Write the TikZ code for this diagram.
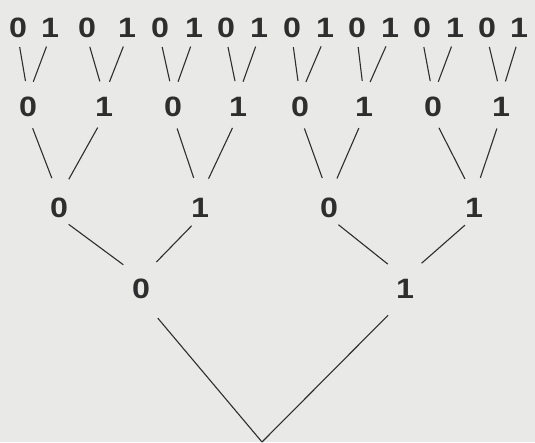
\documentclass[tikz,border=0pt]{standalone}
\usepackage{fontspec}
\setmainfont{Liberation Sans}
\newfontfamily\bitfont{Liberation Sans}[FakeStretch=1.15]
\usepackage{tikz}
\definecolor{PaperGray}{HTML}{E9E9E7}
\definecolor{InkGray}{HTML}{2E2E2E}

\begin{document}
\begin{tikzpicture}[x=1pt, y=-1pt,
  bit/.style = {inner sep = 0pt, text height = 20pt, text depth = 0pt,
    text = InkGray, font = \bitfont\fontsize{28}{32}\selectfont\bfseries},
  branch/.style = {draw = InkGray, line width = 1.1pt}]
  % paper
  \fill[PaperGray] (0,0) rectangle (535,442);

  % top row
  \foreach \x [count = \i] in {18,50,87,127,160,194,226,259,292,325,357,390,422,455,487,519}{
    \pgfmathtruncatemacro\b{mod(\i-1,2)}
    \node[bit] (a\i) at (\x,27) {\b};
  }

  % second row
  \foreach \x [count = \i] in {28,104,173,238,300,364,433,501}{
    \pgfmathtruncatemacro\b{mod(\i-1,2)}
    \node[bit] (b\i) at (\x,106) {\b};
  }

  % third row
  \foreach \x [count = \i] in {59,200,329,474}{
    \pgfmathtruncatemacro\b{mod(\i-1,2)}
    \node[bit] (c\i) at (\x,207) {\b};
  }

  % fourth row
  \node[bit] (d1) at (141,288) {0};
  \node[bit] (d2) at (405,288) {1};
  \coordinate (root) at (262,442);

  % branches
  \foreach \i in {1,...,8}{
    \pgfmathtruncatemacro\l{2*\i-1}
    \pgfmathtruncatemacro\r{2*\i}
    \draw[branch, shorten <= 10pt, shorten >= 15pt] (a\l.south) -- (b\i.north);
    \draw[branch, shorten <= 10pt, shorten >= 15pt] (a\r.south) -- (b\i.north);
  }
  \foreach \i in {1,...,4}{
    \pgfmathtruncatemacro\l{2*\i-1}
    \pgfmathtruncatemacro\r{2*\i}
    \draw[branch, shorten <= 13pt, shorten >= 20pt] (b\l.south) -- (c\i.north);
    \draw[branch, shorten <= 13pt, shorten >= 20pt] (b\r.south) -- (c\i.north);
  }
  \foreach \i in {1,2}{
    \pgfmathtruncatemacro\l{2*\i-1}
    \pgfmathtruncatemacro\r{2*\i}
    \draw[branch, shorten <= 12pt, shorten >= 22pt] (c\l.south) -- (d\i.north);
    \draw[branch, shorten <= 12pt, shorten >= 22pt] (c\r.south) -- (d\i.north);
  }
  \draw[branch, shorten <= 26pt] (d1.south) -- (root);
  \draw[branch, shorten <= 24pt] (d2.south) -- (root);
\end{tikzpicture}
\end{document}
